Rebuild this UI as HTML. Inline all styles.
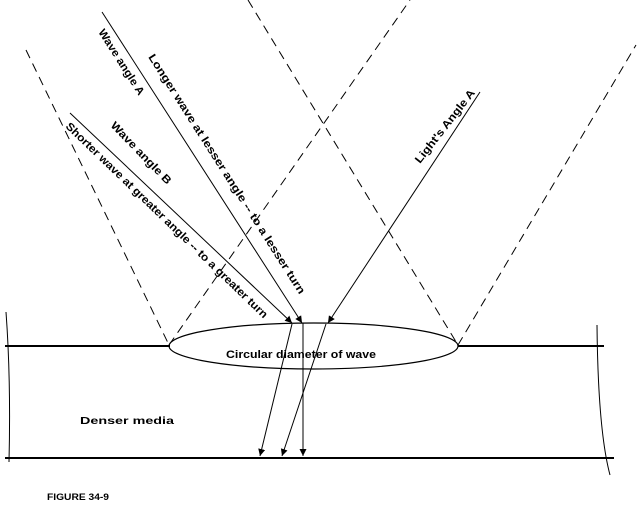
<!DOCTYPE html>
<html><head><meta charset="utf-8"><style>html,body{margin:0;padding:0;background:#fff}svg{display:block}</style></head>
<body>
<svg width="640" height="506" viewBox="0 0 640 506" xmlns="http://www.w3.org/2000/svg" font-family="Liberation Sans, sans-serif" font-weight="bold" font-size="11">
<defs><marker id="a" viewBox="0 0 10 10" refX="10" refY="5" markerWidth="7" markerHeight="7" orient="auto" markerUnits="userSpaceOnUse"><path d="M0,0 L10,5 L0,10 z" fill="#000"/></marker></defs>
<g stroke="#000" fill="none">
<line x1="5" y1="346" x2="170" y2="346" stroke-width="2"/>
<line x1="458" y1="346" x2="604" y2="346" stroke-width="2"/>
<line x1="5" y1="458" x2="614" y2="458" stroke-width="2"/>
<ellipse cx="313.5" cy="346" rx="144.5" ry="23" stroke-width="1.2"/>
<path d="M6,312 Q11,380 9,462" stroke-width="1"/>
<path d="M597,325 Q598,430 610,475" stroke-width="1"/>
<g stroke-dasharray="9,6" stroke-width="1">
<line x1="26" y1="50" x2="169" y2="345"/>
<line x1="169" y1="345" x2="410" y2="0"/>
<line x1="248" y1="0" x2="458" y2="345"/>
<line x1="458" y1="345" x2="636" y2="45"/>
</g>
<g stroke-width="1">
<line x1="102" y1="12" x2="302" y2="323" marker-end="url(#a)"/>
<line x1="70" y1="113" x2="292" y2="323" marker-end="url(#a)"/>
<line x1="480" y1="92" x2="328" y2="323" marker-end="url(#a)"/>
<line x1="292" y1="324" x2="260" y2="456" marker-end="url(#a)"/>
<line x1="303" y1="323" x2="303" y2="456" marker-end="url(#a)"/>
<line x1="326" y1="324" x2="282" y2="456" marker-end="url(#a)"/>
</g>
</g>
<g fill="#000">
<text transform="translate(148,57) rotate(57.5)" textLength="282" lengthAdjust="spacingAndGlyphs">Longer wave at lesser angle -- to a lesser turn</text>
<text transform="translate(98,32) rotate(57.5)" textLength="76" lengthAdjust="spacingAndGlyphs">Wave angle A</text>
<text transform="translate(110,126) rotate(46)" textLength="82" lengthAdjust="spacingAndGlyphs">Wave angle B</text>
<text transform="translate(65,127) rotate(44)" textLength="276" lengthAdjust="spacingAndGlyphs">Shorter wave at greater angle -- to a greater turn</text>
<text transform="translate(420,164) rotate(-52)" textLength="90" lengthAdjust="spacingAndGlyphs">Light's Angle A</text>
<text x="226" y="358" textLength="150" lengthAdjust="spacingAndGlyphs">Circular diameter of wave</text>
<text x="80" y="424" font-size="10" textLength="94" lengthAdjust="spacingAndGlyphs">Denser media</text>
<text x="47" y="500" font-size="9" textLength="62" lengthAdjust="spacingAndGlyphs">FIGURE 34-9</text>
</g>
</svg>
</body></html>
